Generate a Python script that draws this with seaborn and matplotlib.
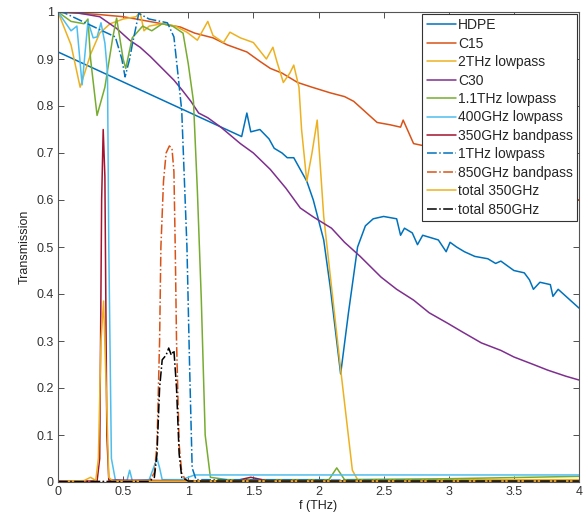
import numpy as np
import pandas as pd
import seaborn as sns
import matplotlib.pyplot as plt

# Transmission curves (f in THz)
hdpe_f = [0, 1.41, 1.45, 1.48, 1.55, 1.62, 1.66, 1.72, 1.76, 1.81, 1.86, 1.91, 1.96, 2.04, 2.09,
          2.17, 2.23, 2.30, 2.36, 2.42, 2.50, 2.60, 2.63, 2.66, 2.72, 2.76, 2.80, 2.86, 2.92, 2.98,
          3.01, 3.06, 3.12, 3.20, 3.30, 3.36, 3.40, 3.50, 3.58, 3.62, 3.65, 3.70, 3.78, 3.80, 3.84,
          3.90, 3.96, 4.0]
hdpe_t = [0.915, 0.735, 0.785, 0.745, 0.75, 0.73, 0.71, 0.70, 0.69, 0.69, 0.665, 0.64, 0.60, 0.515,
          0.415, 0.23, 0.36, 0.50, 0.545, 0.56, 0.565, 0.56, 0.525, 0.54, 0.53, 0.505, 0.525, 0.52,
          0.515, 0.49, 0.51, 0.50, 0.49, 0.48, 0.475, 0.465, 0.47, 0.45, 0.445, 0.43, 0.41, 0.425,
          0.42, 0.395, 0.41, 0.395, 0.38, 0.37]

c15_f = [0, 0.3, 0.5, 0.7, 0.94, 1.05, 1.19, 1.3, 1.45, 1.55, 1.63, 1.72, 1.84, 1.95, 2.09, 2.2,
         2.27, 2.35, 2.45, 2.55, 2.63, 2.65, 2.73, 2.9, 3.2, 3.5, 3.8, 4.0]
c15_t = [1.0, 0.995, 0.99, 0.98, 0.968, 0.955, 0.945, 0.93, 0.915, 0.895, 0.88, 0.87, 0.85, 0.84,
         0.828, 0.82, 0.81, 0.79, 0.765, 0.76, 0.755, 0.77, 0.72, 0.71, 0.68, 0.65, 0.62, 0.6]

lp2_f = [0, 0.1, 0.17, 0.25, 0.32, 0.4, 0.5, 0.6, 0.63, 0.66, 0.7, 0.8, 0.9, 0.99, 1.07, 1.15,
         1.19, 1.27, 1.32, 1.4, 1.5, 1.6, 1.65, 1.68, 1.73, 1.78, 1.81, 1.85, 1.87, 1.91, 1.95,
         1.99, 2.04, 2.17, 2.26, 2.3, 4.0]
lp2_t = [1.0, 0.93, 0.84, 0.91, 0.955, 0.975, 0.985, 0.99, 1.0, 0.96, 0.97, 0.975, 0.97, 0.957,
         0.94, 0.98, 0.95, 0.935, 0.957, 0.945, 0.935, 0.9, 0.925, 0.895, 0.85, 0.87, 0.887, 0.84,
         0.75, 0.64, 0.70, 0.77, 0.565, 0.24, 0.025, 0.005, 0.005]

c30_f = [0, 0.15, 0.32, 0.45, 0.55, 0.63, 0.71, 0.8, 0.89, 0.95, 1.02, 1.08, 1.15, 1.25, 1.4,
         1.5, 1.63, 1.75, 1.86, 1.96, 2.1, 2.2, 2.32, 2.48, 2.6, 2.73, 2.85, 2.99, 3.1, 3.25, 3.4,
         3.5, 3.65, 3.76, 3.9, 4.0]
c30_t = [1.0, 0.998, 0.99, 0.965, 0.94, 0.925, 0.905, 0.88, 0.855, 0.835, 0.81, 0.785, 0.775,
         0.755, 0.72, 0.70, 0.665, 0.625, 0.583, 0.564, 0.54, 0.51, 0.48, 0.436, 0.41, 0.387,
         0.36, 0.338, 0.32, 0.296, 0.28, 0.266, 0.25, 0.238, 0.225, 0.217]

lp11_f = [0, 0.1, 0.2, 0.23, 0.25, 0.3, 0.36, 0.42, 0.45, 0.5, 0.52, 0.57, 0.65, 0.72, 0.8, 0.88,
          0.96, 1.0, 1.04, 1.07, 1.1, 1.13, 1.17, 1.3, 2.08, 2.14, 2.2, 3.0, 4.0]
lp11_t = [1.0, 0.98, 0.975, 0.985, 0.9, 0.78, 0.84, 0.945, 0.987, 0.9, 0.88, 0.945, 0.97, 0.96,
          0.975, 0.97, 0.955, 0.89, 0.81, 0.62, 0.39, 0.1, 0.01, 0.005, 0.005, 0.03, 0.005,
          0.007, 0.012]

lp400_f = [0, 0.1, 0.145, 0.185, 0.23, 0.27, 0.3, 0.33, 0.36, 0.38, 0.39, 0.41, 0.44, 0.5, 0.53,
           0.55, 0.57, 0.7, 0.76, 0.78, 0.8, 0.95, 1.05, 1.2, 4.0]
lp400_t = [1.0, 0.96, 0.97, 0.845, 0.98, 0.945, 0.947, 0.977, 0.934, 0.87, 0.5, 0.05, 0.005,
           0.003, 0.003, 0.025, 0.003, 0.005, 0.05, 0.03, 0.005, 0.005, 0.015, 0.015, 0.015]

bp350_f = [0, 0.3, 0.32, 0.335, 0.347, 0.36, 0.375, 0.39, 1.35, 1.48, 1.6, 4.0]
bp350_t = [0.002, 0.002, 0.05, 0.6, 0.75, 0.65, 0.1, 0.004, 0.002, 0.01, 0.003, 0.002]

lp1_f = [0, 0.05, 0.44, 0.49, 0.515, 0.55, 0.57, 0.62, 0.7, 0.84, 0.89, 0.92, 0.95, 0.99, 1.01,
         1.03, 1.06, 4.0]
lp1_t = [1.0, 0.998, 0.947, 0.9, 0.862, 0.9, 0.93, 0.997, 0.985, 0.977, 0.947, 0.87, 0.79, 0.5,
         0.25, 0.03, 0.005, 0.002]

bp850_f = [0, 0.7, 0.74, 0.76, 0.78, 0.79, 0.81, 0.83, 0.855, 0.875, 0.89, 0.9, 0.91, 0.93,
           0.95, 0.98, 4.0]
bp850_t = [0.001, 0.001, 0.02, 0.08, 0.3, 0.5, 0.64, 0.7, 0.715, 0.71, 0.66, 0.5, 0.3, 0.08,
           0.02, 0.003, 0.002]

tot350_f = [0, 0.2, 0.25, 0.29, 0.31, 0.33, 0.35, 0.37, 0.39, 0.42, 4.0]
tot350_t = [0.001, 0.003, 0.01, 0.003, 0.05, 0.3, 0.385, 0.2, 0.01, 0.002, 0.002]

tot850_f = [0, 0.7, 0.74, 0.76, 0.78, 0.8, 0.83, 0.85, 0.87, 0.89, 0.91, 0.93, 0.95, 1.0, 4.0]
tot850_t = [0.001, 0.001, 0.01, 0.06, 0.2, 0.26, 0.27, 0.285, 0.27, 0.28, 0.2, 0.06, 0.01,
            0.002, 0.002]

labels = ["HDPE", "C15", "2THz lowpass", "C30", "1.1THz lowpass", "400GHz lowpass",
          "350GHz bandpass", "1THz lowpass", "850GHz bandpass", "total 350GHz", "total 850GHz"]
series = [(hdpe_f, hdpe_t), (c15_f, c15_t), (lp2_f, lp2_t), (c30_f, c30_t), (lp11_f, lp11_t),
          (lp400_f, lp400_t), (bp350_f, bp350_t), (lp1_f, lp1_t), (bp850_f, bp850_t),
          (tot350_f, tot350_t), (tot850_f, tot850_t)]

colors = ["#0072BD", "#D95319", "#EDB120", "#7E2F8E", "#77AC30", "#4DBEEE", "#A2142F",
          "#0072BD", "#D95319", "#EDB120", "#000000"]
styles = ["-", "-", "-", "-", "-", "-", "-", "-.", "-.", "-", "-."]

sns.set_theme(style="white")
plt.rcParams["font.family"] = ["Liberation Sans", "DejaVu Sans"]
plt.rcParams["xtick.direction"] = "in"
plt.rcParams["ytick.direction"] = "in"

fig = plt.figure(figsize=(5.86, 5.19), dpi=100)
ax = fig.add_axes([58 / 586, 37 / 519, 521 / 586, 470 / 519])

for (f, t), lab, col, ls in zip(series, labels, colors, styles):
    df = pd.DataFrame({"f": f, "T": t})
    sns.lineplot(data=df, x="f", y="T", ax=ax, color=col, linestyle=ls, linewidth=1.1,
                 label=lab, sort=False, estimator=None)

ax.set_xlim(0, 4)
ax.set_ylim(0, 1)
ax.set_xticks(np.arange(0, 4.01, 0.5))
ax.set_xticklabels(["0", "0.5", "1", "1.5", "2", "2.5", "3", "3.5", "4"])
ax.set_yticks(np.arange(0, 1.01, 0.1))
ax.set_yticklabels(["0", "0.1", "0.2", "0.3", "0.4", "0.5", "0.6", "0.7", "0.8", "0.9", "1"])
ax.tick_params(axis="both", which="both", direction="in", top=True, right=True,
               bottom=True, left=True, length=4, width=0.6, labelsize=9, colors="#333333",
               pad=3)
for sp in ax.spines.values():
    sp.set_color("#555555")
    sp.set_linewidth(0.8)
ax.set_xlabel("f (THz)", fontsize=9, color="#222222", labelpad=1)
ax.set_ylabel("Transmission", fontsize=9, color="#222222", labelpad=4)

leg = ax.legend(loc="upper right", fontsize=10, frameon=True, fancybox=False, framealpha=1,
                edgecolor="#333333", handlelength=2.1, handletextpad=0.15, labelspacing=0.32,
                borderpad=0.3, borderaxespad=0.15)
leg.get_frame().set_linewidth(0.8)

plt.savefig("out.png", dpi=100)
